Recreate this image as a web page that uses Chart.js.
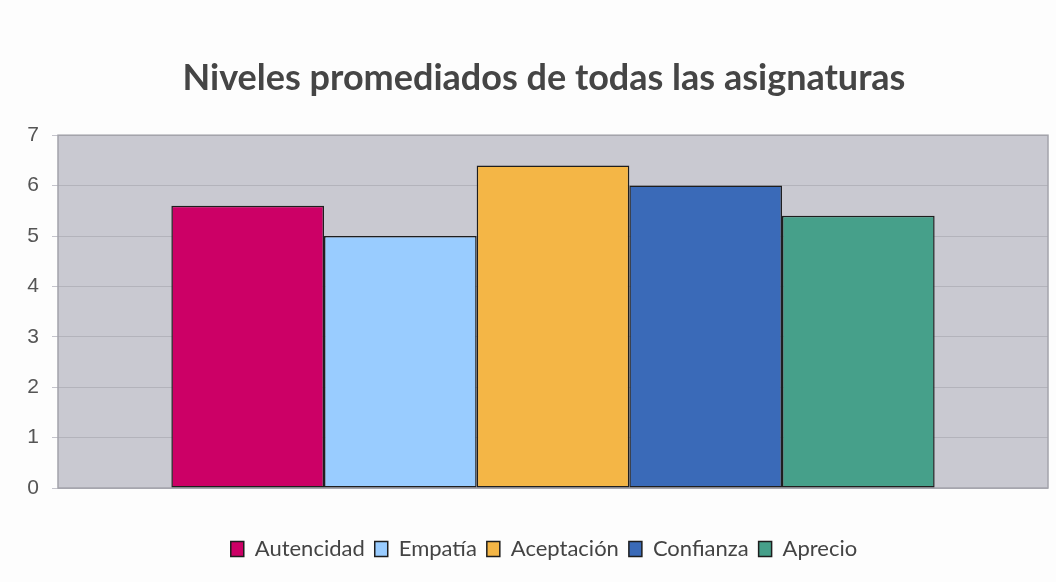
<!DOCTYPE html>
<html>
<head>
<meta charset="utf-8">
<script src="https://cdn.jsdelivr.net/npm/chart.js@4.4.0/dist/chart.umd.min.js"></script>
<style>
  html, body { margin: 0; padding: 0; background: #fdfdfd; }
  #chart { display: block; }
</style>
</head>
<body>
<canvas id="chart" width="1056" height="582"></canvas>
<script>
// one group, five qualities
const categories = ['']
const seriesNames = ['Autencidad', 'Empatía', 'Aceptación', 'Confianza', 'Aprecio']
const seriesValues = [5.6, 5.0, 6.4, 6.0, 5.4]
const seriesColors = ['#cc0066', '#99ccff', '#f4b646', '#3a6ab8', '#46a08a']
const yTicks = [0, 1, 2, 3, 4, 5, 6, 7]

// grey plot background with a thin frame
const plotBackground = {
    id: 'plotBackground',
    beforeDraw(chart) {
        const a = chart.chartArea
        const ctx = chart.ctx
        ctx.save()
        ctx.fillStyle = '#c9c9d1'
        ctx.fillRect(a.left, a.top, a.right - a.left, a.bottom - a.top)
        ctx.restore()
    },
    beforeDatasetsDraw(chart) {
        const a = chart.chartArea
        const ctx = chart.ctx
        ctx.save()
        ctx.strokeStyle = '#a3a3ab'
        ctx.lineWidth = 1.5
        ctx.strokeRect(a.left, a.top, a.right - a.left, a.bottom - a.top)
        ctx.restore()
    }
}

let datasets = seriesNames.map(function(name, i) {
    return {
        label: name,
        data: [seriesValues[i]],
        backgroundColor: seriesColors[i],
        borderColor: '#1e1e1e',
        borderWidth: 1.5,
        borderSkipped: false,
        barPercentage: 1.0,
        categoryPercentage: 0.771
    }
})

var ctx = document.getElementById('chart').getContext('2d')
new Chart(ctx, {
    type: 'bar',
    data: { labels: categories, datasets: datasets },
    plugins: [plotBackground],
    options: {
        responsive: false,
        animation: false,
        // title and legend sit a bit right of centre in the original,
        // so the layout runs past the right edge and an empty right axis pulls the plot back
        layout: { padding: { left: 0, right: -32, top: 0, bottom: 12 } },
        scales: {
            x: {
                grid: { display: false },
                border: { display: false },
                ticks: { display: false },
                afterFit: function(scale) { scale.height = 40 }
            },
            y: {
                min: 0,
                max: 7,
                afterFit: function(scale) { scale.width = 58 },
                afterBuildTicks: function(scale) {
                    scale.ticks = yTicks.map(function(v) { return { value: v } })
                },
                grid: { color: '#b3b3bb', lineWidth: 1, tickLength: 6, tickColor: '#c4c4cc' },
                border: { display: false },
                ticks: {
                    padding: 13,
                    color: '#555555',
                    font: { family: 'Liberation Sans', size: 21 }
                }
            },
            spacer: {
                type: 'linear',
                position: 'right',
                grid: { display: false },
                border: { display: false },
                ticks: { display: false },
                afterFit: function(scale) { scale.width = 40 }
            }
        },
        plugins: {
            tooltip: { enabled: false },
            title: {
                display: true,
                text: 'Niveles promediados de todas las asignaturas',
                color: '#454545',
                font: { family: 'Lato', size: 36, weight: 'bold' },
                padding: { top: 57, bottom: 35 }
            },
            legend: {
                position: 'bottom',
                labels: {
                    boxWidth: 13,
                    boxHeight: 15,
                    padding: 10,
                    color: '#444444',
                    font: { family: 'Lato', size: 22 }
                }
            }
        }
    }
})
</script>
</body>
</html>
